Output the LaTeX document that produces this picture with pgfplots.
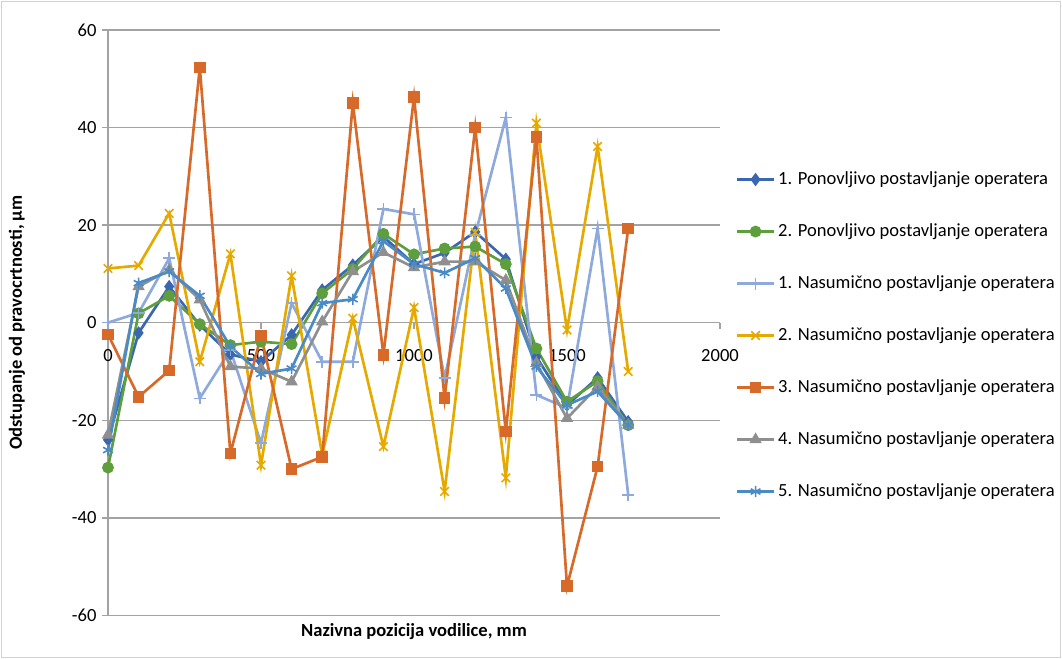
\documentclass[border=0pt]{standalone}
\usepackage{pgfplots}
\pgfplotsset{compat=1.18}
\usepackage{pgfplotstable}
\usepackage{fontspec}
\setmainfont{Carlito}

\definecolor{sA}{HTML}{3A67B2}
\definecolor{sB}{HTML}{5E9E3C}
\definecolor{sC}{HTML}{8EA9DB}
\definecolor{sD}{HTML}{E5A900}
\definecolor{sE}{HTML}{D76A28}
\definecolor{sF}{HTML}{8F8F8F}
\definecolor{sG}{HTML}{4A8BC6}
\definecolor{gridc}{HTML}{A3A3A3}

% x  ponov1 ponov2 nas1 nas2 nas3 nas4 nas5
\pgfplotstableread{
x    s1     s2     s3     s4     s5     s6     s7
0    -24.0  -29.7  0.0    11.1   -2.4   -23.0  -26.1
100  -2.1   1.9    2.0    11.7   -15.2  7.4    8.1
200  7.4    5.5    13.2   22.4   -9.8   10.8   10.5
300  -0.5   -0.3   -15.5  -8.0   52.3   4.7    5.5
400  -6.5   -4.6   -5.6   14.1   -26.8  -9.0   -4.9
500  -8.0   -3.9   -24.7  -29.2  -2.7   -9.4   -10.5
600  -2.5   -4.4   4.0    9.6    -30.0  -12.1  -9.4
700  6.7    6.0    -8.0   -27.1  -27.5  0.2    4.0
800  11.8   11.0   -8.0   0.9    45.0   10.5   4.8
900  17.6   18.2   23.3   -25.4  -6.6   14.4   16.7
1000 12.0   14.0   22.2   3.1    46.2   11.3   12.0
1100 14.3   15.2   -11.4  -34.6  -15.5  12.5   10.2
1200 18.6   15.6   18.0   18.5   40.0   12.5   13.2
1300 13.0   12.0   42.0   -31.8  -22.3  8.7    7.0
1400 -7.0   -5.3   -14.8  40.9   38.0   -8.3   -9.0
1500 -16.9  -16.2  -17.5  -1.5   -54.0  -19.6  -16.9
1600 -11.3  -12.0  19.3   36.1   -29.5  -13.1  -14.1
1700 -20.3  -21.0  -35.3  -10.0  19.3   -21.0  -21.0
}\data

\newcommand{\fs}{\fontsize{13.9pt}{16pt}\selectfont}

\begin{document}
\begin{tikzpicture}
\useasboundingbox (-81pt,-32.6pt) rectangle (715.5pt,461.6pt);
\draw[gray!35, line width=0.75pt] (-80pt,-31.6pt) rectangle (714.5pt,460.6pt);
\begin{axis}[
  at={(0,0)}, anchor=south west,
  scale only axis, width=459pt, height=439.2pt,
  xmin=0, xmax=2000, ymin=-60, ymax=60,
  xtick={0,500,1000,1500,2000}, ytick={-60,-40,...,60},
  axis x line*=middle, axis y line*=left,
  hide obscured x ticks=false,
  tick align=outside, major tick length=4.5pt,
  axis line style={draw=gridc, line width=1pt},
  tick style={draw=gridc, line width=1pt},
  ymajorgrids, grid style={draw=gridc, line width=1pt},
  /pgf/number format/assume math mode=true,
  /pgf/number format/1000 sep={},
  tick label style={font=\fs},
  xticklabel style={anchor=center, inner sep=0pt, yshift=-20pt},
  yticklabel style={anchor=east, inner sep=0pt, xshift=-4pt},
  xlabel={Nazivna pozicija vodilice, mm},
  ylabel={Odstupanje od pravocrtnosti, µm},
  label style={font=\fs\bfseries},
  xlabel style={at={(axis description cs:0.5,-0.0282)}, anchor=center},
  ylabel style={at={(axis description cs:-0.1487,0.5)}, anchor=center},
  legend style={at={(1.025,0.478)}, anchor=west, draw=none, fill=none,
    font=\fs, row sep=22pt, inner sep=0pt,
    nodes={text height=10pt, text depth=3pt},
    /tikz/every even column/.append style={column sep=0pt}},
  legend cell align=left,
  legend image code/.code={\draw[mark repeat=2,mark phase=2,#1]
    plot coordinates {(0pt,0pt) (14pt,0pt) (28pt,0pt)};},
  every axis plot/.append style={line width=2pt, mark size=3.4pt},
  clip=false,
]
\addplot[sA, mark=diamond*, mark options={solid, fill=sA}] table[x=x,y=s1] {\data};
\addlegendentry{1. Ponovljivo postavljanje operatera}
\addplot[sB, mark=*, mark options={solid, fill=sB}] table[x=x,y=s2] {\data};
\addlegendentry{2. Ponovljivo postavljanje operatera}
\addplot[sC, mark=+, mark size=4.5pt, mark options={solid, line width=1.2pt}] table[x=x,y=s3] {\data};
\addlegendentry{1. Nasumično postavljanje operatera}
\addplot[sD, mark=x, mark size=4.5pt, mark options={solid, line width=1.2pt}] table[x=x,y=s4] {\data};
\addlegendentry{2. Nasumično postavljanje operatera}
\addplot[sE, mark=square*, mark options={solid, fill=sE}] table[x=x,y=s5] {\data};
\addlegendentry{3. Nasumično postavljanje operatera}
\addplot[sF, mark=triangle*, mark options={solid, fill=sF}] table[x=x,y=s6] {\data};
\addlegendentry{4. Nasumično postavljanje operatera}
\addplot[sG, mark=asterisk, mark size=4.2pt, mark options={solid, line width=1.2pt}] table[x=x,y=s7] {\data};
\addlegendentry{5. Nasumično postavljanje operatera}
\end{axis}
\end{tikzpicture}
\end{document}
